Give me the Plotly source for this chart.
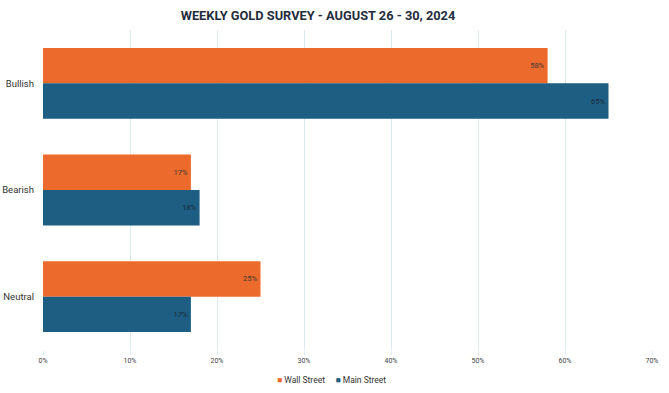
import plotly.graph_objects as go

categories = ["Bullish", "Bearish", "Neutral"]
wall_street = [58, 17, 25]
main_street = [65, 18, 17]
tick_vals = [0, 10, 20, 30, 40, 50, 60, 70]
tick_text = ["0%", "10%", "20%", "30%", "40%", "50%", "60%", "70%"]
series_names = ["Wall Street", "Main Street"]
series_colors = ["#EC6A2C", "#1D5E82"]

font_family = "Roboto, 'Open Sans', sans-serif"

fig = go.Figure()
for name, vals, color, tcol in zip(series_names, [wall_street, main_street],
                                   series_colors, ["#3a3a3a", "#1a2a3a"]):
    fig.add_trace(go.Bar(
        name=name, y=categories, x=vals, orientation="h",
        marker=dict(color=color, line=dict(width=0)),
        text=[f"{v}%" for v in vals], textposition="inside",
        insidetextanchor="end", textfont=dict(size=7.5, color=tcol),
        showlegend=False, hoverinfo="skip",
    ))

legend_text = "&nbsp;&nbsp;&nbsp;&nbsp;&nbsp;".join(
    f'<span style="color:{c}">■</span> {n}' for n, c in zip(series_names, series_colors)
)

fig.update_layout(
    width=669, height=393,
    margin=dict(l=43, r=17, t=30, b=43, autoexpand=False),
    paper_bgcolor="white", plot_bgcolor="white",
    barmode="group", bargap=0.336, bargroupgap=0,
    font=dict(family=font_family, color="#333"),
    title=dict(text="<b>WEEKLY GOLD SURVEY - AUGUST 26 - 30, 2024</b>",
               x=318 / 669, xref="container", xanchor="center",
               y=1 - 16 / 393, yref="container", yanchor="middle",
               font=dict(size=12.8, color="#1F2D3D")),
    showlegend=False,
    annotations=[dict(text=legend_text, xref="paper", yref="paper",
                      x=(331 - 43) / 609, y=-(380 - 350) / 320,
                      xanchor="center", yanchor="middle", showarrow=False,
                      font=dict(size=8.5, color="#333"))],
    uniformtext=dict(minsize=6, mode="show"),
)
fig.update_xaxes(range=[0, 70], tickvals=tick_vals, ticktext=tick_text,
                 showgrid=True, gridcolor="#DCEAF2", gridwidth=1,
                 zeroline=False, showline=False, automargin=False,
                 ticks="outside", ticklen=4, tickcolor="#DCEAF2",
                 tickfont=dict(size=7, color="#444"))
fig.update_yaxes(autorange="reversed", showgrid=False, showline=False,
                 ticks="", automargin=False, ticklabelstandoff=8,
                 tickfont=dict(size=9.5, color="#333"))

fig.write_html("out.html", config={"displayModeBar": False},
               post_script="document.body.style.margin='0px';")
